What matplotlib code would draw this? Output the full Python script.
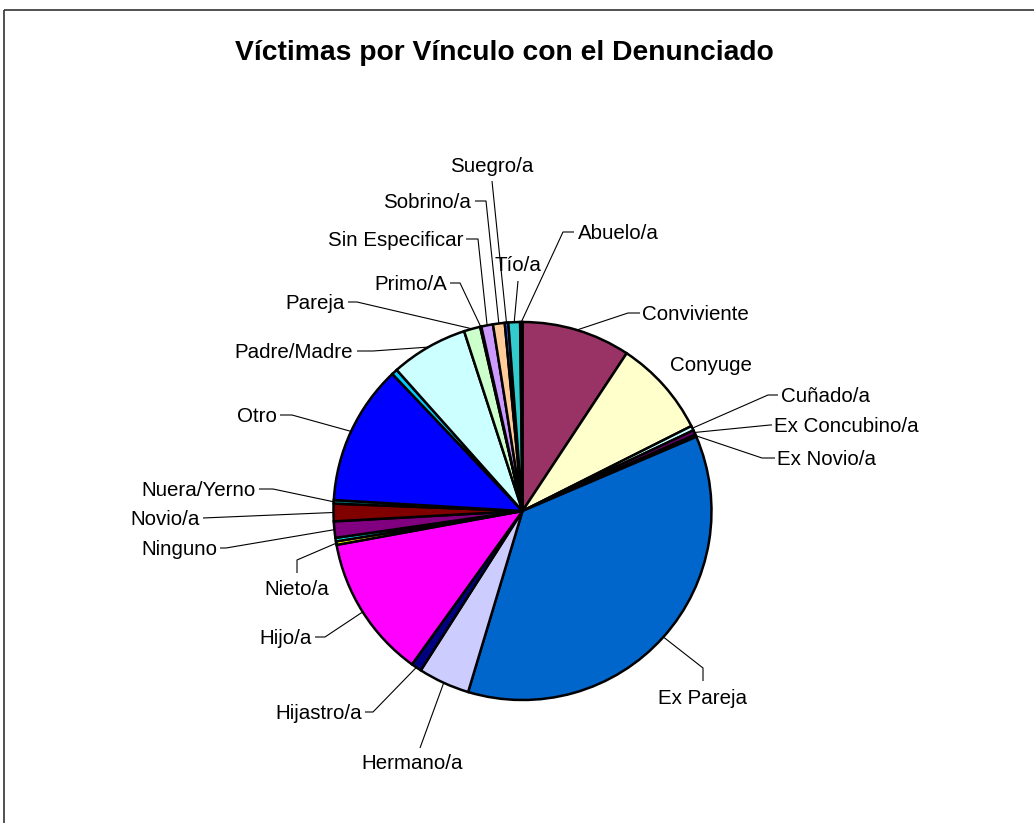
import matplotlib
matplotlib.use("Agg")
import matplotlib.pyplot as plt
from matplotlib.patches import Rectangle
import numpy as np

# ---------------- data (clockwise from 12 o'clock) ----------------
categories = ["Conviviente", "Conyuge", "Cuñado/a", "Ex Concubino/a", "Ex Novio/a",
              "Ex Pareja", "Hermano/a", "Hijastro/a", "Hijo/a", "Nieto/a", "",
              "Ninguno", "Novio/a", "Nuera/Yerno", "Otro", "", "Padre/Madre",
              "Pareja", "Primo/A", "Sin Especificar", "Sobrino/a", "Suegro/a",
              "Tío/a", "Abuelo/a"]
values = [93, 83, 4, 4, 2, 361, 44, 9, 122, 3, 3, 14, 15, 3, 120, 5, 66,
          14, 1, 10, 10, 3, 10, 2]
colors = ["#993366", "#FFFFCC", "#CCFFFF", "#660066", "#FF8080", "#0066CC",
          "#CCCCFF", "#000080", "#FF00FF", "#FFFF00", "#00FFFF", "#800080",
          "#800000", "#008080", "#0000FF", "#00CCFF", "#CCFFFF", "#CCFFCC",
          "#FFFF99", "#CC99FF", "#FFCC99", "#3366FF", "#33CCCC", "#003366"]
title = "Víctimas por Vínculo con el Denunciado"

# ---------------- layout (pixel coordinates, y downward) ----------------
W, H = 1034, 823
CX, CY, R = 522.5, 511.0, 189.0
label_layout = {
    "Conviviente": (642, 313, "left", [(628, 313), (640, 313)]),
    "Conyuge": (670, 364, "left", None),
    "Cuñado/a": (781, 395, "left", [(768, 395), (778, 395)]),
    "Ex Concubino/a": (774, 425, "left", [(770, 425), (772, 425)]),
    "Ex Novio/a": (777, 458, "left", [(762, 458), (775, 458)]),
    "Ex Pareja": (703, 697, "center", [(703, 668), (703, 681)]),
    "Hermano/a": (412, 762, "center", [(420, 748)]),
    "Hijastro/a": (362, 712, "right", [(373, 712), (365, 712)]),
    "Hijo/a": (312, 637, "right", [(325, 637), (315, 637)]),
    "Nieto/a": (297, 588, "center", [(297, 560), (297, 573)]),
    "Ninguno": (217, 548, "right", [(226, 548), (220, 548)]),
    "Novio/a": (200, 518, "right", [(203, 518)]),
    "Nuera/Yerno": (256, 489, "right", [(273, 489), (259, 489)]),
    "Otro": (277, 415, "right", [(292, 415), (280, 415)]),
    "Padre/Madre": (353, 351, "right", [(373, 351), (357, 351)]),
    "Pareja": (345, 302, "right", [(357, 302), (348, 302)]),
    "Primo/A": (447, 283, "right", [(460, 283), (450, 283)]),
    "Sin Especificar": (463, 239, "right", [(478, 239), (466, 239)]),
    "Sobrino/a": (471, 201, "right", [(486, 201), (475, 201)]),
    "Suegro/a": (492, 165, "center", [(492, 181)]),
    "Tío/a": (518, 264, "center", [(518, 281)]),
    "Abuelo/a": (578, 232, "left", [(563, 232), (574, 232)]),
}

plt.rcParams["font.family"] = ["Liberation Sans", "DejaVu Sans"]

fig = plt.figure(figsize=(W / 100, H / 100), dpi=100)
ax = fig.add_axes([0, 0, 1, 1])

wedges, _ = ax.pie(values, colors=colors, startangle=-90, counterclock=True,
                   center=(CX, CY), radius=R,
                   wedgeprops=dict(edgecolor="black", linewidth=1.8))
ax.set_xlim(0, W)
ax.set_ylim(H, 0)
ax.set_aspect("auto")
ax.axis("off")

# labels with leader lines
for w, name in zip(wedges, categories):
    if not name or name not in label_layout:
        continue
    tx, ty, ha, pts = label_layout[name]
    if pts:
        th = np.deg2rad((w.theta1 + w.theta2) / 2)
        ex, ey = CX + R * np.cos(th), CY + R * np.sin(th)
        xs = [ex] + [p[0] for p in pts]
        ys = [ey] + [p[1] for p in pts]
        ax.plot(xs, ys, color="black", lw=0.8, solid_capstyle="butt", zorder=5)
    ax.text(tx, ty + 7, name, ha=ha, va="baseline", fontsize=14.8, color="black")

ax.text(504.5, 60, title, ha="center", va="baseline", fontsize=20.3,
        fontweight="bold", color="black")

# chart frame (continues past the right and bottom edges)
ax.add_patch(Rectangle((4, 10), 1200, 1000, fill=False, edgecolor="#333333",
                       linewidth=1.2, zorder=0))

fig.savefig("out.png", dpi=100)
